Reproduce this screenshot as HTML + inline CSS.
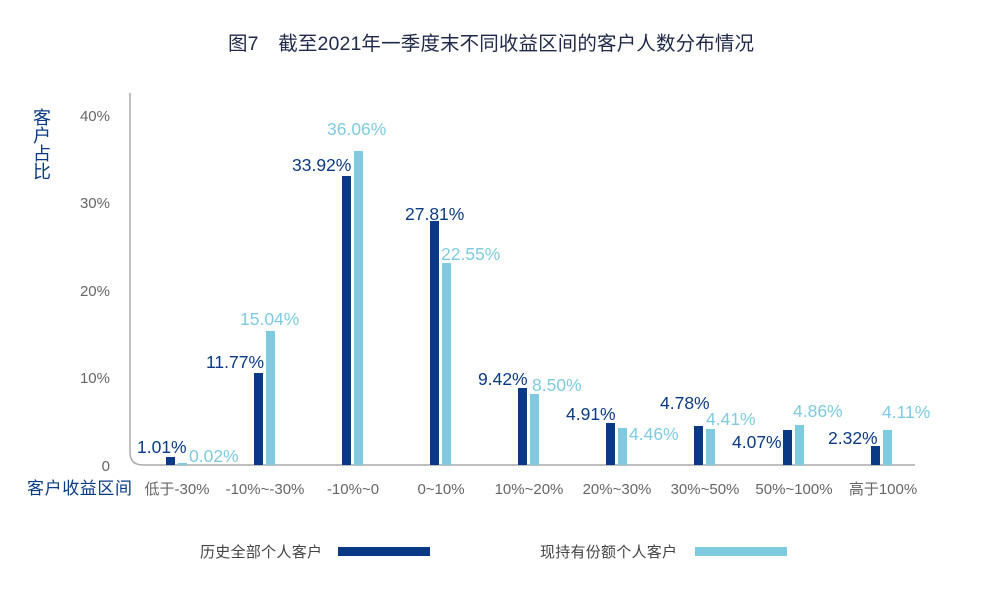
<!DOCTYPE html>
<html><head><meta charset="utf-8"><style>
html,body{margin:0;padding:0;background:#fff}
svg text{font-family:"Liberation Sans","Noto Sans CJK SC",sans-serif}
</style></head><body>
<svg width="982" height="590" viewBox="0 0 982 590" xmlns="http://www.w3.org/2000/svg">
<text x="491" y="50" text-anchor="middle" font-size="19.5" fill="#1f2a4a" textLength="526">图7　截至2021年一季度末不同收益区间的客户人数分布情况</text>
<path d="M130 93 V452 Q130 465 143 465 H915" fill="none" stroke="#aaa" stroke-width="1.5"/>
<g font-size="15" fill="#666" text-anchor="end">
<text x="110" y="121">40%</text><text x="110" y="208">30%</text><text x="110" y="296">20%</text><text x="110" y="383">10%</text><text x="110" y="471">0</text>
</g>
<g font-size="18" fill="#0a3a85" text-anchor="middle">
<text x="42" y="124">客</text><text x="42" y="142">户</text><text x="42" y="160">占</text><text x="42" y="178">比</text>
</g>
<text x="27" y="494" font-size="17" fill="#0a3a85" textLength="105">客户收益区间</text>
<g fill="#0a3a85">
<rect x="166" y="457" width="9" height="8"/>
<rect x="254" y="373" width="9" height="92"/>
<rect x="342" y="176" width="9" height="289"/>
<rect x="430" y="221" width="9" height="244"/>
<rect x="518" y="388" width="9" height="77"/>
<rect x="606" y="423" width="9" height="42"/>
<rect x="694" y="426" width="9" height="39"/>
<rect x="783" y="430" width="9" height="35"/>
<rect x="871" y="446" width="9" height="19"/>
</g>
<g fill="#7ecbe0">
<rect x="178" y="463" width="9" height="2"/>
<rect x="266" y="331" width="9" height="134"/>
<rect x="354" y="151" width="9" height="314"/>
<rect x="442" y="263" width="9" height="202"/>
<rect x="530" y="394" width="9" height="71"/>
<rect x="618" y="428" width="9" height="37"/>
<rect x="706" y="429" width="9" height="36"/>
<rect x="795" y="425" width="9" height="40"/>
<rect x="883" y="430" width="9" height="35"/>
</g>
<g font-size="17.5" fill="#0a3a85">
<text x="137" y="453">1.01%</text>
<text x="206" y="368">11.77%</text>
<text x="292" y="171">33.92%</text>
<text x="405" y="220">27.81%</text>
<text x="478" y="385">9.42%</text>
<text x="566" y="420">4.91%</text>
<text x="660" y="409">4.78%</text>
<text x="732" y="448">4.07%</text>
<text x="828" y="444">2.32%</text>
</g>
<g font-size="17.5" fill="#7ecbe0">
<text x="189" y="462">0.02%</text>
<text x="240" y="325">15.04%</text>
<text x="327" y="135">36.06%</text>
<text x="441" y="260">22.55%</text>
<text x="532" y="391">8.50%</text>
<text x="629" y="440">4.46%</text>
<text x="706" y="425">4.41%</text>
<text x="793" y="417">4.86%</text>
<text x="882" y="418">4.11%</text>
</g>
<g font-size="15" fill="#666" text-anchor="middle">
<text x="177" y="494">低于-30%</text>
<text x="265" y="494">-10%~-30%</text>
<text x="353" y="494">-10%~0</text>
<text x="441" y="494">0~10%</text>
<text x="529" y="494">10%~20%</text>
<text x="617" y="494">20%~30%</text>
<text x="705" y="494">30%~50%</text>
<text x="794" y="494">50%~100%</text>
<text x="883" y="494">高于100%</text>
</g>
<text x="200" y="557" font-size="15" fill="#444" textLength="122">历史全部个人客户</text>
<rect x="338" y="547" width="92" height="9" fill="#0a3a85"/>
<text x="540" y="557" font-size="15" fill="#444" textLength="137">现持有份额个人客户</text>
<rect x="695" y="547" width="92" height="9" fill="#7ecbe0"/>
</svg>
</body></html>
